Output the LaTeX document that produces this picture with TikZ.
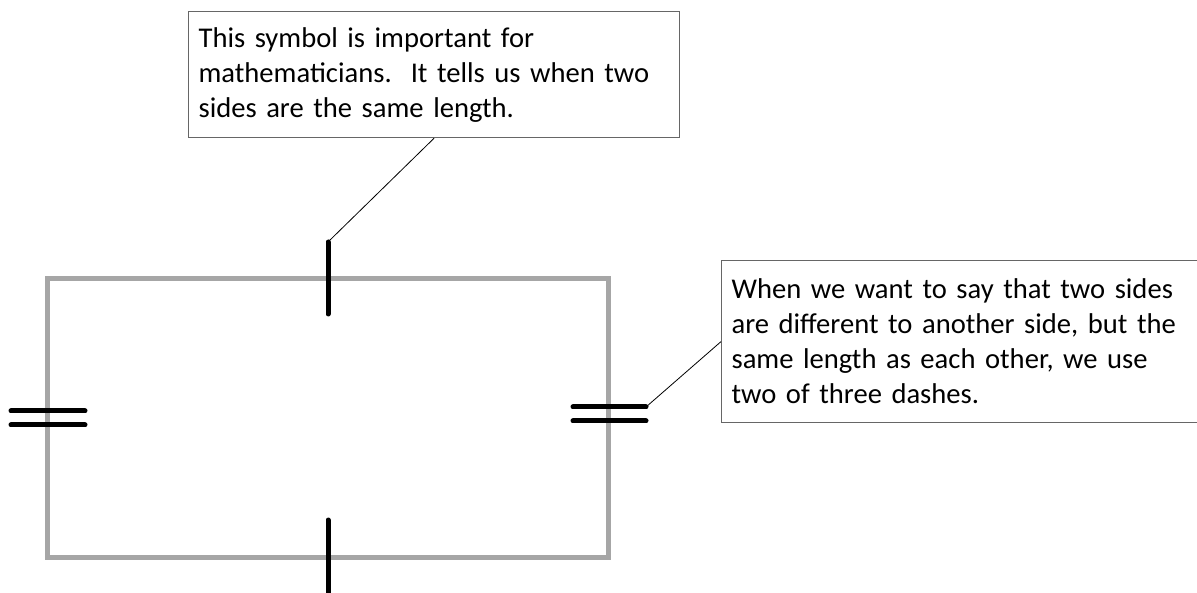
\documentclass[tikz,border=0pt]{standalone}
\usepackage{fontspec}
\setmainfont{Carlito}
\usepackage{tikz}

\begin{document}
\begin{tikzpicture}[x=1pt, y=-1pt, note/.style={draw=black!60, line width=1.2pt, inner xsep=10pt, inner ysep=0pt, align=left, anchor=north west, font=\fontsize{28.6}{35}\selectfont}, side/.style={draw=black!35, line width=5pt}, tick/.style={line width=5pt, line cap=round}, leader/.style={line width=0.8pt}]
  \useasboundingbox (0,0) rectangle (1197,593);
  \draw[side] (47.5,278.7) rectangle (608.7,557.7);
  \coordinate (topA) at (328,242);
  \coordinate (topB) at (328,314);
  \coordinate (botA) at (328,520);
  \coordinate (botB) at (328,600);
  \coordinate (dashend) at (646,407);
  \draw[tick] (topA) -- (topB);
  \draw[tick] (botA) -- (botB);
  \foreach \y in {411,425} \draw[tick] (11,\y) -- (85,\y);
  \foreach \y in {407,421} \draw[tick] (573,\y) -- (646,\y);
  \node[note, minimum width=491pt, minimum height=126pt, text width=471pt] (single) at (188,11) {This symbol is important for\\mathematicians.\ \ It tells us when two\\sides are the same length.};
  \node[note, minimum width=482pt, minimum height=162pt, text width=462pt] (double) at (721,260) {When we want to say that two sides\\are different to another side, but the\\same length as each other, we use\\two of three dashes.};
  \draw[leader] (single.south) -- (topA);
  \draw[leader] (double.west) -- (dashend);
\end{tikzpicture}
\end{document}
